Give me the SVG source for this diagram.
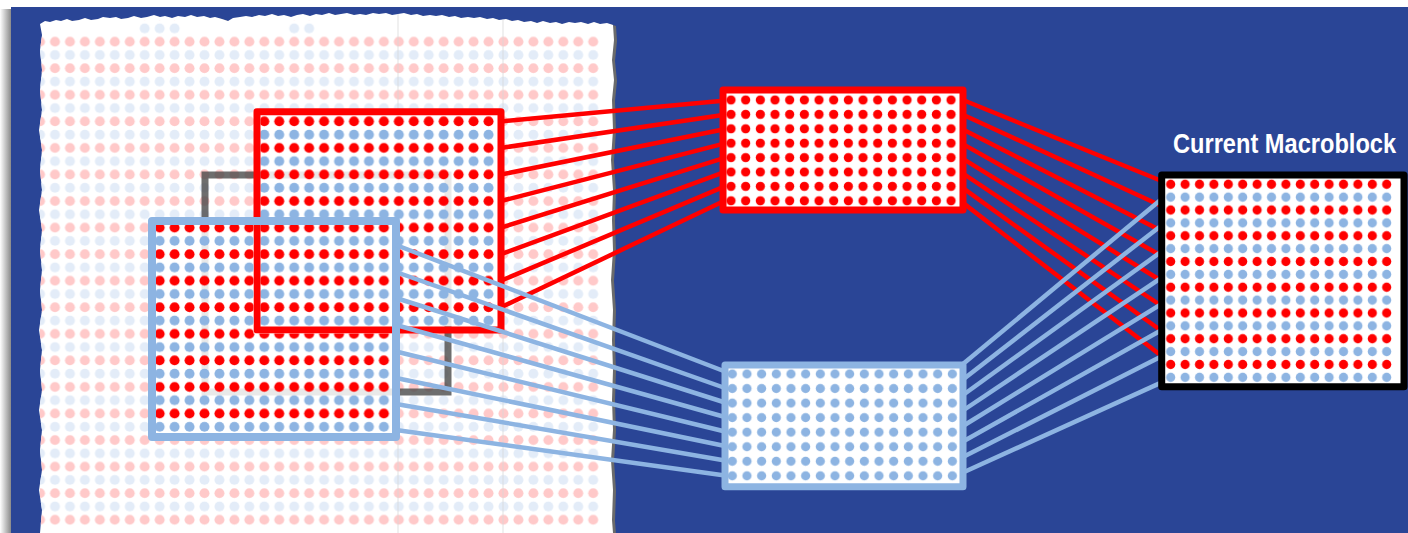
<svg xmlns="http://www.w3.org/2000/svg" width="1408" height="533" viewBox="0 0 1408 533">
<defs>
<style>
.frame{fill:none;stroke-linejoin:round}
.red-link{stroke:#FF0000;stroke-width:4.5;fill:none}
.blue-link{stroke:#8DB4E2;stroke-width:4.5;fill:none}
.label{font-family:"Liberation Sans Narrow","Liberation Sans",Arial,sans-serif;font-weight:bold;font-size:27px;fill:#ffffff}
</style>
<linearGradient id="shadowL" x1="0" x2="1" y1="0" y2="0">
<stop offset="0" stop-color="#ffffff"/><stop offset="1" stop-color="#8a8a8a"/>
</linearGradient>
<pattern id="bgDots" patternUnits="userSpaceOnUse" x="47.525" y="21.76" width="14.95" height="26.56">
<circle cx="7.475" cy="6.64" r="5" fill="#E3ECF8"/>
<circle cx="7.475" cy="19.92" r="5" fill="#FFC9C9"/>
</pattern>
<pattern id="hiDots" patternUnits="userSpaceOnUse" x="47.525" y="21.76" width="14.95" height="26.56">
<circle cx="7.475" cy="6.64" r="5" fill="#8DB4E2"/>
<circle cx="7.475" cy="19.92" r="5" fill="#FF0000"/>
</pattern>
<pattern id="midRed" patternUnits="userSpaceOnUse" x="723.665" y="92.8" width="14.67" height="14.4">
<circle cx="7.335" cy="7.2" r="4.6" fill="#FF0000"/>
</pattern>
<pattern id="midBlue" patternUnits="userSpaceOnUse" x="724.965" y="366.725" width="14.67" height="14.55">
<circle cx="7.335" cy="7.275" r="4.6" fill="#8DB4E2"/>
</pattern>
<pattern id="curDots" patternUnits="userSpaceOnUse" x="1163.5" y="177.865" width="14.4" height="25.74">
<circle cx="7.2" cy="6.435" r="4.6" fill="#FF0000"/>
<circle cx="7.2" cy="19.305" r="4.6" fill="#8DB4E2"/>
</pattern>
<path id="paperShape" d="M40,24 L45,21 L50,22 L56,20 L61,21 L67,19 L72,21 L79,20 L85,18 L91,20 L98,19 L103,17 L110,18 L116,17 L121,19 L128,18 L134,16 L141,18 L147,17 L154,15 L160,17 L165,16 L172,18 L178,16 L185,17 L191,15 L197,17 L204,16 L210,18 L215,17 L222,19 L228,21 L233,18 L240,17 L246,16 L252,17 L259,15 L265,16 L272,14 L278,16 L284,15 L291,17 L297,15 L303,14 L310,16 L316,14 L322,15 L329,13 L335,15 L341,14 L347,13 L354,15 L360,14 L366,15 L373,13 L379,14 L386,13 L392,15 L398,14 L404,13 L411,15 L417,14 L423,16 L430,15 L436,16 L442,15 L449,17 L455,16 L461,18 L468,17 L474,18 L480,17 L487,19 L493,18 L499,20 L506,19 L512,21 L518,20 L524,22 L531,21 L537,23 L543,21 L550,23 L556,22 L562,24 L569,22 L575,23 L581,22 L588,24 L594,22 L600,24 L607,23 L613,25 L614,40 L612,60 L614,80 L612,100 L613,130 L611,160 L613,190 L612,220 L613,250 L611,280 L613,310 L612,340 L613,370 L612,400 L613,430 L611,460 L613,490 L612,520 L613,533 L40,533 L42,510 L39,490 L42,470 L40,450 L42,430 L39,410 L42,390 L40,370 L42,350 L39,330 L42,310 L40,290 L42,270 L40,250 L42,230 L39,210 L42,190 L40,170 L42,150 L39,130 L42,110 L40,90 L42,70 L40,50 L42,35 Z"/>
<clipPath id="paperClip"><use href="#paperShape"/></clipPath>
</defs>

<g id="background">
<rect width="1408" height="533" fill="#ffffff"/>
<rect x="0" y="9" width="11" height="524" fill="url(#shadowL)"/>
<rect x="11" y="7" width="1397" height="526" fill="#2A4596"/>
<use href="#paperShape" transform="translate(3,1)" fill="#6b6b6b"/>
<use href="#paperShape" fill="#ffffff"/>
<g clip-path="url(#paperClip)">
<rect x="40" y="35" width="560" height="492" fill="url(#bgDots)"/>
<rect x="137" y="20" width="45" height="15" fill="url(#bgDots)"/>
<rect x="287" y="20" width="30" height="15" fill="url(#bgDots)"/>
<line x1="398" y1="10" x2="398" y2="533" stroke="#d8d8d8" stroke-width="1.5" stroke-opacity="0.5"/>
<line x1="503" y1="10" x2="503" y2="533" stroke="#d8d8d8" stroke-width="1.5" stroke-opacity="0.5"/>
</g>
</g>

<g id="search-origin">
<rect x="205" y="175" width="243" height="217" fill="none" stroke="#4a4a4a" stroke-width="7" stroke-opacity="0.8"/>
</g>

<g id="reference-block-red">
<rect x="260.5" y="115.2" width="237" height="211.3" fill="#ffffff" fill-opacity="0.85"/>
<rect x="260.5" y="115.2" width="237" height="211.3" fill="url(#hiDots)"/>
<rect class="frame" x="257" y="111.7" width="244" height="218.3" stroke="#FF0000" stroke-width="7"/>
</g>

<g id="reference-block-blue">
<path d="M156,225 H392 V433 H156 Z M253.5,225 H392 V333.5 H253.5 Z" fill="#ffffff" fill-opacity="0.85" fill-rule="evenodd"/>
<path d="M156,225 H392 V433 H156 Z M253.5,225 H392 V333.5 H253.5 Z" fill="url(#hiDots)" fill-rule="evenodd"/>
<rect class="frame" x="152" y="221" width="244" height="216" stroke="#8DB4E2" stroke-width="8"/>
</g>

<g id="connectors">
<line class="red-link" x1="501" y1="121.4" x2="723" y2="100.7"/>
<line class="red-link" x1="501" y1="147.9" x2="723" y2="115.1"/>
<line class="red-link" x1="501" y1="174.5" x2="723" y2="129.5"/>
<line class="red-link" x1="501" y1="201" x2="723" y2="143.9"/>
<line class="red-link" x1="501" y1="227.6" x2="723" y2="158.3"/>
<line class="red-link" x1="501" y1="254.2" x2="723" y2="172.7"/>
<line class="red-link" x1="501" y1="280.7" x2="723" y2="187.1"/>
<line class="red-link" x1="501" y1="307.3" x2="723" y2="201.5"/>
<line class="red-link" x1="963" y1="100" x2="1161.7" y2="181"/>
<line class="red-link" x1="963" y1="114.7" x2="1161.7" y2="206"/>
<line class="red-link" x1="963" y1="129.4" x2="1161.7" y2="231"/>
<line class="red-link" x1="963" y1="144.1" x2="1161.7" y2="256"/>
<line class="red-link" x1="963" y1="158.8" x2="1161.7" y2="281"/>
<line class="red-link" x1="963" y1="173.5" x2="1161.7" y2="306"/>
<line class="red-link" x1="963" y1="188.2" x2="1161.7" y2="331"/>
<line class="red-link" x1="963" y1="202.9" x2="1161.7" y2="356"/>
<line class="blue-link" x1="396" y1="245" x2="725" y2="371.5"/>
<line class="blue-link" x1="396" y1="272" x2="725" y2="388"/>
<line class="blue-link" x1="396" y1="298" x2="725" y2="402.5"/>
<line class="blue-link" x1="396" y1="325" x2="725" y2="417"/>
<line class="blue-link" x1="396" y1="351.5" x2="725" y2="431.5"/>
<line class="blue-link" x1="396" y1="378" x2="725" y2="446"/>
<line class="blue-link" x1="396" y1="404" x2="725" y2="460.5"/>
<line class="blue-link" x1="396" y1="430" x2="725" y2="475.5"/>
<line class="blue-link" x1="963" y1="364" x2="1161.7" y2="199"/>
<line class="blue-link" x1="963" y1="379.5" x2="1161.7" y2="225.2"/>
<line class="blue-link" x1="963" y1="395" x2="1161.7" y2="251.4"/>
<line class="blue-link" x1="963" y1="410.5" x2="1161.7" y2="277.6"/>
<line class="blue-link" x1="963" y1="426" x2="1161.7" y2="303.8"/>
<line class="blue-link" x1="963" y1="441.5" x2="1161.7" y2="330"/>
<line class="blue-link" x1="963" y1="457" x2="1161.7" y2="356.2"/>
<line class="blue-link" x1="963" y1="472.5" x2="1161.7" y2="382.4"/>
</g>

<g id="prediction-red">
<rect x="723" y="90" width="240" height="120" fill="#ffffff"/>
<rect x="723.665" y="92.8" width="234.72" height="115.2" fill="url(#midRed)"/>
<rect class="frame" x="723" y="90" width="240" height="120" stroke="#FF0000" stroke-width="7"/>
</g>

<g id="prediction-blue">
<rect x="725" y="365" width="238" height="121.7" fill="#ffffff"/>
<rect x="724.965" y="366.725" width="234.72" height="116.4" fill="url(#midBlue)"/>
<rect class="frame" x="725" y="365" width="238" height="121.7" stroke="#8DB4E2" stroke-width="7"/>
</g>

<g id="current-macroblock">
<rect x="1161.7" y="175" width="242.3" height="211.7" fill="#ffffff"/>
<rect x="1163.5" y="177.9" width="230.4" height="205.9" fill="url(#curDots)"/>
<rect class="frame" x="1161.7" y="175" width="242.3" height="211.7" stroke="#000000" stroke-width="7"/>
<text class="label" transform="translate(1173,153) scale(0.875,1)" x="0" y="0">Current Macroblock</text>
</g>
</svg>
